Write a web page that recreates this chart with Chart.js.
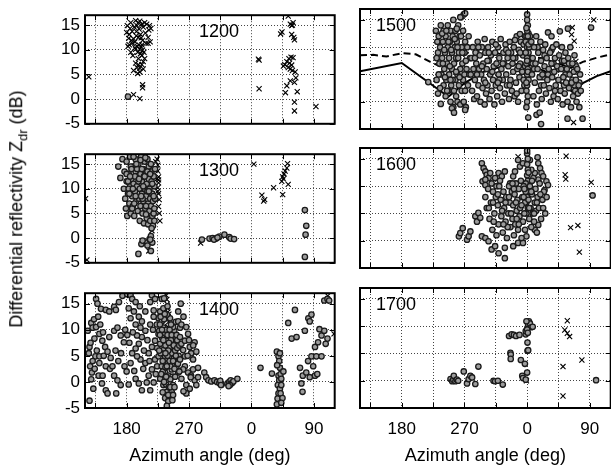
<!DOCTYPE html>
<html>
<head>
<meta charset="utf-8">
<script src="https://cdn.jsdelivr.net/npm/chart.js@4/dist/chart.umd.min.js"></script>
<style>
  html, body { margin: 0; padding: 0; background: #fff; overflow: hidden; }
  #wrap { position: relative; width: 611px; height: 468px; overflow: hidden; }
  canvas { position: absolute; }
  #ytitle {
    position: absolute; left: 18px; top: 209px;
    transform: translate(-50%, -50%) rotate(-90deg);
    font: 18px "Liberation Sans", Arial, sans-serif; white-space: nowrap; color: #000;
  }
  #ytitle sub { font-size: 13px; }
</style>
</head>
<body>
<div id="wrap">
  <canvas id="p1200" width="340" height="139" style="left:0;top:0"></canvas>
  <canvas id="p1500" width="271" height="139" style="left:345px;top:0"></canvas>
  <canvas id="p1300" width="340" height="139" style="left:0;top:139px"></canvas>
  <canvas id="p1600" width="271" height="139" style="left:345px;top:139px"></canvas>
  <canvas id="p1400" width="340" height="190" style="left:0;top:278px"></canvas>
  <canvas id="p1700" width="271" height="190" style="left:345px;top:278px"></canvas>
  <div id="ytitle">Differential reflectivity Z<sub>dr</sub> (dB)</div>
</div>
<script>
(function () {
  "use strict";

  // ----- Axes -----
  // azimuth runs 120 -> 480 (wraps through 0 at 360)
  const X_MIN = 120, X_MAX = 480;
  const X_TICKS = [135, 180, 225, 270, 315, 360, 405, 450];
  const X_LABELS = ["", "180", "", "270", "", "0", "", "90"];
  const Y_MIN = -5, Y_MAX = 17;
  const Y_TICKS = [-5, 0, 5, 10, 15];

  // ----- Data: [azimuth deg, Zdr dB] -----
  const C1200 = [[182, 0.5]];
  const X1200 = [
    [125.5, 4.5],
    [181, 14.9], [184, 13.1], [185, 14.3], [186, 15.5], [188, 13.7], [182, 10.7], [186, 9.5], [188, 11.3], [190, 12.2],
    [193, 10.1], [195, 14.9], [197, 15.5], [199, 15.8], [202, 15.2], [204, 14.6], [206, 15.5], [213, 14.9], [215, 14.3],
    [214, 11.6], [211, 11.3], [197, 12.5], [195, 10.7], [199, 10.1], [202, 8.8], [197, 8.2], [193, 7.3], [190, 5.8],
    [195, 6.4], [199, 5.5], [202, 7.0], [204, 7.6], [206, 8.2], [205, 9.5], [202, 11.0], [200, 13.1], [194, 13.7],
    [187, 11.9], [189, 8.8], [192, 10.4], [196, 9.5], [198, 11.0], [203, 11.9], [208, 11.3], [211, 12.5], [207, 13.4],
    [197, 7.0], [183, 12.3], [191, 14.6], [193, 15.9], [200, 9.2], [201, 10.6], [203, 9.9], [199, 6.3], [196, 5.2],
    [204, 6.1], [192, 11.6], [194, 12.8], [198, 14.2], [201, 12.4], [209, 15.2], [212, 14.0], [180, 13.5], [184, 11.0],
    [190, 0.9], [199, 0.1], [203, 2.9], [203, 2.3],
    [371, 2.1], [371, 7.9], [370, 8.1], [402, 13.2], [404, 13.6], [413, 16.8], [416, 15.2], [418, 14.9], [420, 15.5],
    [419, 15.0], [418, 13.1], [421, 12.5], [422, 12.0], [406, 6.7], [408, 7.0], [411, 7.6], [414, 8.2], [417, 8.5],
    [420, 8.4], [413, 6.4], [416, 6.1], [419, 5.8], [423, 5.5], [424, 4.3], [422, 3.4], [416, 3.7], [411, 2.7],
    [409, 1.3], [426, 1.5], [422, -0.6], [422, -2.4], [453, -1.5], [415, 7.3], [418, 6.9]
  ];

  const C1300 = [
    [168, 14.5], [171, 12.2], [174, 16], [176, 10], [177, 13.5], [178, 8], [179, 6], [180, 11.5], [180, 15.5], [181, 4.5],
    [182, 9], [183, 13], [184, 7], [185, 16.5], [185, 10.5], [186, 5], [187, 12], [188, 8.5], [189, 14.5], [189, 6.5],
    [190, 11], [191, 4.5], [192, 9.5], [193, 13.5], [193, 16], [194, 7.5], [195, 10.5], [196, 5.5], [196, 12.5], [197, 15],
    [198, 8], [199, 10], [199, 3.5], [200, 13], [200, 6.5], [201, 16.5], [202, 9], [202, 11.5], [203, 5], [204, 14],
    [204, 7.5], [205, 12.5], [205, 3], [206, 10], [206, 15.5], [207, 6], [208, 8.5], [208, 13], [209, 4], [209, 11],
    [210, 9.5], [210, 16], [211, 7], [211, 2.8], [212, 12], [212, 14.5], [213, 5.5], [213, 10], [214, 8], [214, 3.5],
    [215, 15], [215, 6.5], [216, 11.5], [216, 13.5], [217, 4.5], [217, 9], [218, 2.5], [218, 7.5], [219, 12.5], [219, 5],
    [220, 10.5], [220, 3.5], [221, 8], [221, 14], [216, 2], [183, 10], [186, 14.5], [190, 16.5], [195, 14], [200, 15.8],
    [207, 16.3], [188, 6], [192, 12.5], [197, 11.5], [203, 8], [208, 4.8], [180, 13],
    [182, 11.5], [184, 9], [187, 14], [189, 10], [191, 7], [194, 15], [198, 12], [201, 8.5], [204, 10.5], [206, 12.5],
    [208, 6.5], [210, 13.5], [212, 9.5], [214, 13], [217, 11], [219, 8.5], [220, 6], [185, 12.5], [193, 8.5], [202, 14],
    [197, -3.2], [201.3, -1.2], [209, -0.9], [213, -0.2], [215, 0.4], [215, -2.6], [217, -0.9], [203, -0.5], [210, -1.5], [214, -0.3],
    [288.6, -0.3], [299.5, -0.1], [304, 0], [309, -0.1], [313.7, 0.3], [321, 0.7], [328, 0.2], [330, -0.1], [335, -0.2], [306, -0.3], [311, 0.1],
    [437, 5.7], [439, 2.5], [438, 0.7], [437, -3.8]
  ];
  const X1300 = [
    [120.8, 8], [122.7, -4.4],
    [224, 16], [225, 14.8], [225, 13.6], [226, 12.4], [226, 11.2], [225, 10.2], [226, 9], [227, 7.8], [226, 6.4],
    [227, 5], [228, 3.5], [222, 15.5], [224, 12], [225, 9.5], [226, 11.8], [223, 14], [216.5, 1.5], [212, -2.6],
    [286.7, -1.0], [363.4, 15], [375, 8.7], [377.6, 7.5], [379, 7.8], [391.9, 10.2], [403.7, 11.5], [405, 12.4],
    [407, 13], [408.5, 13.6], [411, 14.2], [412, 15.1], [405, 8.8], [413, 10.9], [406, 12]
  ];

  const C1400 = [
    [124, 9.8], [125.5, 5.5], [126.5, 6.7], [127.4, 3], [129, 11.3], [130, 1.8], [131, 10.4], [132, -1.3], [133.6, 8.3],
    [135, 4.9], [136, 15.9], [126.5, -3.6], [138, 15], [140.7, 3.6], [139.7, 1.2], [140.7, 9.2], [140.7, 4.9], [143, 14],
    [144.5, -0.3], [145, 7.9], [145.4, 1.2], [147, 5], [149, 6.7], [150, 13.8], [150, 3], [150, -1.6], [152.5, 5.8],
    [152.5, -2.2], [155, 13.5], [155, 8.6], [156, 2.5], [157, 4.6], [159.6, 3], [162, 14.4], [162, 9.8], [162, 1.2],
    [164.5, 13.8], [164, 6], [165, -2.2], [166.8, 10.4], [166.8, 0.3], [168, 4], [169, 15.3], [171.5, 8.9], [171.5, -0.6],
    [172, 5.5], [174, 16.5], [176, 7.6], [177, 3], [178, 10], [128, 7.5], [131, 4], [134, 2.5], [137, 6], [129, 0.5],
    [133, 12], [136, 10.5], [139, 12.5], [142, 11], [146, 9.5],
    [181, 16.8], [185.7, 16.6], [188, 15.9], [193, 15.3], [183, 14.1], [190.5, 13.5], [185.7, 12.2], [193, 11], [197.6, 12.5],
    [202, 11.6], [207, 13.5], [214, 15.3], [216.5, 16.6], [221, 15.9], [219, 13.7], [207, 9.8], [202, 8.6], [197.6, 7.3],
    [193, 6.4], [188, 5.5], [185.7, 3.6], [191, 2.1], [193, 0.6], [197.6, -0.3], [202, -1.6], [209, -0.1], [211.8, 1.2],
    [216.5, 2.4], [221, 4.3], [207, 3.6], [211.8, 5.5], [216.5, 6.7], [221, 7.9], [226, 9.2], [223.5, 11], [226, 12.2],
    [204, 2.5], [200, 4.3], [195, 4.9], [214, -1.6], [219, -0.1], [195, 8.9], [200, 10.4], [214, 11], [219, 12.5], [181, 9],
    [184, 7.5], [180, 2], [183, -0.5], [189, 9.5], [199, 14.5], [205, 6], [210, 8], [213, 4], [218, 10], [224, 6.5],
    [222, 1.5], [224, 3],
    [228.4, 13.5], [230.7, 11.6], [233, 10.4], [235.5, 9.2], [238, 7.9], [228.4, 7.3], [233, 6.1], [235.5, 4.9], [240, 3.6],
    [245, 2.4], [230.7, 3], [235.5, 1.8], [240, 1.2], [228.4, 0.6], [233, -0.6], [238, -1.9], [235.5, -3.1], [240, -3.7],
    [238, -4.6], [245, -1.9], [247, -0.6], [242.6, 6.7], [245, 5.5], [247, 7.3], [249.7, 8.6], [248.7, 9.8], [245, 11],
    [242.6, 12.2], [238, 12.9], [233, 14.1], [249.7, 4.3], [252, 3], [254.4, 1.8], [230.7, 15.9], [226, 4.9], [227, 9.8],
    [229, 5.5], [231, 8.5], [232, 2], [234, 12], [236, 7], [237, 10], [239, 5], [241, 9], [243, 3], [244, 8], [246, 1],
    [247, 10.5], [249, 2.5], [250, 6], [251, 11.5], [253, 8], [255, 5], [237, -0.5], [241, -1], [243, 0.5], [244, -2.5],
    [246, -3.5], [239, 14.5], [234, 16], [228, 11], [232, 4], [236, 2.8], [240, 6], [242, 10], [248, 4.5],
    [227, 6], [229, 12.5], [231, 10], [233, 8], [235, 13], [236, 5.5], [238, 3], [239, 9], [241, 7.5], [242, 4], [244, 11],
    [245, 9], [247, 4], [248, 7], [250, 1], [251, 5], [252, 9], [253, 6.5], [254, 3.5], [256, 7], [230, 1.5], [234, 0],
    [237, 1], [240, -2.5], [243, -1], [232, -2], [247, -2.5], [249, -1], [228, 9],
    [257, 8.6], [259, 7.3], [261.5, 6.1], [264, 4.9], [257, 10.4], [264, 7.9], [268.6, 9.2], [271, 6.7], [273, 5.5],
    [275.8, 4.3], [264, 3], [268.6, 1.8], [273, 1.2], [278, 0.3], [280.5, -0.6], [259, 0.6], [257, 4.3], [261.5, 2.4],
    [266, -0.6], [271, -1.3], [275.8, 2.4], [283, 0.9], [278, 7.6], [280.5, 5.8], [254.4, 11.6], [259, 11], [254.4, 13.5],
    [266, -2.2], [272.4, 0.9], [258, 15], [262, 12.5], [266, 10.5], [270, 8], [262, -1.8], [256, 2], [268, 5], [276, 7],
    [283, 2.7],
    [292, 1.8], [294.7, 0.9], [298, 0.3], [302, 0.1], [306.6, 0.3], [310.4, 0], [313.7, -0.2], [317, -0.5], [315, 0.2],
    [316, -0.6], [325.5, -0.3], [328, 0], [330, 0.3], [332, -0.2], [334, 0.1], [339.7, 0.6], [329, -0.6], [327, -0.8],
    [373, 2.7], [389.5, 1.6], [396.6, 5.8], [399, 4.9], [400, 4], [401, 2.7], [399, 1.2], [400, 0.3], [398, -0.6],
    [401, -1.3], [399, -2.2], [397.6, -3.2], [396.6, -4.3], [402, 1.5], [403, 0.6], [403, -0.6], [406, 2], [402, -2.2],
    [404.7, -3.1], [401, 5.5], [397, 3.2], [403, -4],
    [413, 11.3], [422.7, 13.8], [418, 8.3], [425, 8.6], [430, 2.7], [434, 1.2], [432, -0.3], [433.6, -1.9], [437, 9.8],
    [442, 12.2], [446.5, 12.9], [444, 11.6], [439, 1.8], [441.6, 4], [446.5, 4.9], [449, 3], [451.6, 1.2], [454.9, 1.5],
    [444, 0.9], [451.6, 6.7], [456, 7.6], [461, 8.9], [458, 10.1], [465, 9.8], [467, 7.3], [469.6, 8.3], [453.5, 4.9],
    [461, 4.9], [465, 15.6], [469.6, 15.9], [472, 15.6]
  ];
  const X1400 = [
    [237, 16.6], [238, 15.8], [238.5, 14.9], [239, 14.1], [239.5, 13.4], [240, 12.5], [240.5, 11.5], [239, 10.6],
    [241, 13], [470, 16.5], [479, 9.2]
  ];

  const C1500 = [
    [229, 13], [231, 11], [232, 9], [233, 12], [234, 7], [235, 10], [236, 14], [237, 5], [238, 8], [239, 11], [240, 3],
    [240, 13], [241, 6], [242, 9], [243, 1], [243, 12], [244, 4], [245, 7], [246, 10], [246, 14], [247, 2], [248, 5],
    [248, 8], [249, 11], [250, 13], [250, 0], [251, 3], [252, 6], [252, 9], [253, 12], [254, -1], [254, 15], [255, 2],
    [255, 7], [256, 10], [257, 4], [257, 13], [258, 1], [258, 8], [259, 11], [260, 0], [260, 5], [261, 14], [262, 3],
    [262, 9], [263, 12], [264, -0.5], [264, 6], [265, 15.5], [266, 2], [266, 10], [267, 7], [268, 13], [268, 4], [269, 0],
    [269, 16], [270, 9], [271, 2], [271, 11], [272, -1], [273, 6], [275, 3], [276, 12], [278, 8], [230, 4], [232, 1.5],
    [236, -0.4], [252, -1.2], [255, -2], [271, -1.5], [218, 3.6], [259, 13.4], [264, 15.5], [271, 16.2],
    [230, 8], [233, 5], [235, 2.5], [238, 12.5], [241, 9.5], [244, 13], [245, 2], [247, 11], [249, 6.5], [251, 9.5],
    [253, 4], [256, 11.5], [258, 5.5], [261, 8], [263, 4.5], [265, 12], [267, 9], [270, 5], [272, 7.5], [274, 10],
    [277, 5], [260, 10], [250, 4], [242, 4.5], [239, 7],
    [279, 5], [280, 8], [281, 2], [282, 10], [283, 6], [284, 0.5], [285, 4], [286, 9], [287, 7], [288, 1], [289, 11],
    [290, 3], [291, 6], [292, 8.5], [293, 0], [294, 5], [295, 10], [296, 2.5], [297, 7], [298, 4], [299, 11.5], [299, -0.5],
    [300, 9], [301, 1.5], [302, 6], [303, 3], [304, 10], [305, 7.5], [306, 0.5], [307, 5], [308, 8.5], [309, 2], [310, 11],
    [311, 4], [312, 6.5], [313, -0.5], [314, 9], [315, 3], [316, 7], [317, 1], [318, 10], [319, 5], [320, 8], [321, 2.5],
    [322, 11.5], [323, 6], [324, 0], [325, 4], [326, 9], [327, 7], [328, 1.5], [329, 10.5], [330, 5], [331, 3], [332, 8],
    [333, 6.5], [334, 0.5], [335, 11], [336, 4], [337, 9], [338, 2], [339, 7], [340, 5.5], [341, 10], [342, 1], [343, 8],
    [344, 3.5], [345, 12], [346, 6], [347, 0], [348, 9.5], [349, 4.5], [350, 7], [351, 11], [352, 2], [353, 5.5],
    [354, 8.5], [355, 10.5], [356, 3], [357, 6.5], [357, 12],
    [285, 8], [290, 10], [295, 6.5], [300, 3.5], [305, 9], [310, 5.5], [315, 10.5], [320, 4], [325, 7], [330, 9.5],
    [335, 3], [340, 8], [345, 1.5], [350, 9], [355, 4], [365, 8], [370, 6], [375, 10], [380, 3], [385, 8.5], [390, 5],
    [395, 9.5], [400, 2], [405, 6], [410, 7.5], [415, 5], [420, 7], [425, 4], [430, 6.5], [435, 3.5], [288, 5],
    [303, 7.5], [318, 3.5], [333, 9], [348, 6.5], [368, 7], [383, 4.5], [398, 7], [413, 3], [428, 3],
    [359, -1], [360, 0], [361, 1], [359, 2], [360, 3], [362, 4], [360, 5], [361, 6], [359, 7], [360, 8], [362, 9],
    [360, 10], [361, 11], [359, 12], [362, 12.5], [360, 13], [361, 14], [360, 15], [360, 16], [363, 10], [358, 11],
    [364, 12], [358, 9], [359, 3.5], [361, 5.5], [360, 7.5], [362, 10.5], [359, 13.5], [361, 12],
    [366, 11], [367, 5], [368, 8], [369, 1], [370, 10], [371, 3.5], [372, 7], [373, 12], [374, -0.5], [375, 6], [376, 9],
    [377, 2], [378, 4.5], [379, 11], [380, 7.5], [381, 0.5], [382, 5], [383, 9.5], [384, 3], [385, 6.5], [386, 10.5],
    [387, 1.5], [388, 8], [389, 4], [390, 12.7], [391, 6], [392, 2.5], [393, 9], [394, 0], [395, 7], [396, 4.5], [397, 10],
    [398, 1], [399, 5.5], [400, 8], [401, 3], [402, 10.5], [403, 6.5], [404, 0.5], [405, 4], [406, 8.5], [407, 12.9],
    [408, 2], [409, 6], [410, 10], [411, -0.5], [412, 4.5], [413, 7.5], [414, 1.5], [415, 9], [416, 3.5], [417, 6],
    [418, 0], [419, 8], [420, 2.5], [421, 5], [422, 10], [423, -1], [424, 3.5], [425, 7], [426, 1], [427, 5.5], [428, 8.5],
    [429, 2], [430, 4], [431, 0], [432, 6], [433, 1.5], [434, 3], [435, -1], [436, 5], [437, 2], [418.6, 13.4],
    [361.6, -2.9], [373.5, -2.4], [378, -2.0], [380, -4.1], [418, -3.1], [439.6, -3.1], [342.6, 11.3], [349.7, 12.4],
    [451.8, 13.6], [395, 12]
  ];
  const X1500 = [
    [424.8, 13.6], [423.8, 12.3], [427.6, 11.1], [430, 7.4], [426.7, -3.8], [455.7, 15], [431, 6.2]
  ];
  const SOLID1500 = [
    [120, 5.6], [180, 7.1], [247, 0.9], [270, 3.4], [298, 5.5], [320, 6.3], [345, 6.9], [365, 6.7], [385, 5.6],
    [405, 3.8], [425, 1.8], [440, 3.4], [460, 4.7], [480, 5.6]
  ];
  const DASH1500 = [
    [120, 8.5], [139, 8.6], [158, 8.3], [180, 8.9], [200, 8.7], [221, 7.3], [240, 6.2], [260, 7.5], [276, 9.1],
    [298, 9.4], [320, 8.8], [350, 8.5], [380, 8.0], [405, 7.0], [423, 6.2], [440, 7.3], [458, 8.0], [480, 8.7]
  ];

  const C1600 = [
    [295, 14.2], [297.5, 13.3], [300, 12.7], [302, 12.1], [304.6, 11.5], [296, 10.9], [300, 11.2], [307, 12.4], [314, 11.5],
    [319, 12.4], [323.6, 11.8], [328, 12.7], [309, 10.5], [316, 10], [300, 10.2],
    [347, 14.8], [349.7, 13.6], [354, 14.2], [364, 14.8], [375, 15.3], [376, 14.2], [378.6, 13.3], [380.6, 12.4],
    [383, 11.8], [387.7, 10.9], [390, 10.2], [385, 9.3], [376, 11.2], [371, 12.4], [366, 13], [340, 11.8], [335.5, 10.5],
    [342.6, 12.7],
    [359, 5], [361, 6], [359, 7], [360, 8], [361, 9], [360, 10], [361, 11], [360, 12], [361, 13], [360, 14], [361, 15],
    [360, 16], [360, 16.5], [362, 12.5], [358, 10.5],
    [262, 0.8], [264, 1.4], [267.5, 2.3], [273.7, 0.2], [276, 0.8], [278.5, 1.7], [285.6, 4.5], [290, 5.1], [288, 3.5],
    [292.7, 4.2], [295, 0.8], [300, 0.5], [304.6, -0.1],
    [309, -1.6], [314, -1], [319, -2.3], [328, -3.2], [328, -1.3], [340, -1], [347, -0.4], [354, -0.4], [359, 0.8],
    [376, 2.9], [371, 2],
    [300, 8], [302, 6], [304, 9.5], [306, 4], [308, 7], [310, 2], [311, 9], [313, 5], [315, 8], [316, 1], [318, 6.5],
    [319, 3], [320, 10], [322, 7.5], [323, 4.5], [325, 1.5], [326, 9], [327, 6], [329, 3.5], [330, 8], [331, 0.5], [333, 5],
    [334, 10], [335, 7], [336, 2.5], [338, 9], [339, 4], [340, 6.5], [341, 1], [342, 8.5], [343, 3], [344, 10.5],
    [345, 5.5], [346, 7.5], [347, 2], [348, 9.5], [349, 4.5], [350, 6], [351, 11], [352, 0.5], [353, 8], [354, 3.5],
    [355, 10], [356, 5], [357, 7], [357, 2], [358, 9], [362, 7.5], [363, 4], [364, 10], [365, 6], [366, 2.5], [367, 8.5],
    [368, 5], [369, 11.5], [370, 3.5], [371, 7], [372, 9.5], [373, 5.5], [374, 1.5], [375, 8], [377, 6], [378, 10.5],
    [380, 4], [382, 7.5], [384, 9], [386, 5], [388, 8],
    [305, 6], [312, 3.5], [318, 8.5], [324, 5.5], [329, 7], [332, 2.5], [337, 5], [341, 9.5], [344, 7], [348, 3],
    [352, 6.5], [355, 8], [363, 6], [366, 9], [370, 5], [374, 7], [379, 8.5], [383, 6], [326, 3], [334, 8], [345, 4],
    [356, 9.5], [367, 11], [339, 10.5], [311, 7], [321, 11],
    [454, 8.3]
  ];
  const X1600 = [
    [347, 15.4], [416, 15.5], [414.6, 12.1], [415.5, 11.3], [452, 10.7], [422.4, 2.4], [432.9, 2.8], [435, -2.1]
  ];

  const C1700 = [
    [250, 0.3], [252.4, -0.1], [254, 0.2], [254.7, 0.9], [257, -0.1], [259, 0.2], [261, 0], [269, 1.7], [273.7, -0.5],
    [276, 0.3], [278.5, 0.9], [281, 0.6], [285.6, -0.6], [290, 2.6], [311.7, 0], [314, -0.1], [318, 0], [325, -0.7],
    [334, 8.2], [337.8, 8.5], [341, 8.4], [344, 8.2], [349, 8.4], [336, 5.1], [336.5, 4.8], [336.4, 4.0], [351, 3.8],
    [353, 0.9], [354, 0.5], [356.8, 3.1], [358, 0.2], [360, 1.5], [360.5, 7], [360.5, 5.5], [361.5, 5.6], [358, 8.5],
    [358, 9.1], [360.5, 9.7], [361.6, 10.3], [362.5, 10.9], [364, 10.5], [366, 9.8], [368, 9.9], [359, 10.9], [360, 9.4],
    [361, 8.8], [459, 0.1]
  ];
  const X1700 = [
    [359, 0], [417.7, 11], [414, 9.3], [417.7, 8.7], [421, 8.1], [411.5, 2.6], [411.5, -2.8], [438.6, 3.8]
  ];

  // ----- Styling -----
  const FONT = '"Liberation Sans", Arial, Helvetica, sans-serif';

  // gnuplot-like frame with inward ticks on all sides and the panel hour label
  const framePlugin = {
    id: "frame",
    afterDraw(chart, args, opts) {
      const { ctx, chartArea: a, scales } = chart;
      ctx.save();
      ctx.strokeStyle = "#000";
      ctx.lineWidth = 1;
      ctx.beginPath();
      X_TICKS.forEach((v) => {
        const x = Math.round(scales.x.getPixelForValue(v)) + 0.5;
        ctx.moveTo(x, a.bottom); ctx.lineTo(x, a.bottom - 5);
        ctx.moveTo(x, a.top); ctx.lineTo(x, a.top + 5);
      });
      Y_TICKS.forEach((v) => {
        const y = Math.round(scales.y.getPixelForValue(v)) + 0.5;
        ctx.moveTo(a.left, y); ctx.lineTo(a.left + 5, y);
        ctx.moveTo(a.right, y); ctx.lineTo(a.right - 5, y);
      });
      ctx.stroke();
      ctx.lineWidth = 2;
      ctx.strokeRect(a.left, a.top, a.right - a.left, a.bottom - a.top);
      ctx.fillStyle = "#000";
      ctx.font = "18px " + FONT;
      ctx.textBaseline = "middle";
      ctx.textAlign = "left";
      ctx.fillText(opts.text, a.left + opts.dx, a.top + 17);
      ctx.restore();
    },
  };

  const toXY = (arr) => arr.map(([x, y]) => ({ x, y }));

  function makePanel(id, p) {
    const left = p.col === 0;
    const bottom = p.row === 2;
    const datasets = [
      {
        data: toXY(p.circles), pointStyle: "circle", pointRadius: 2.7,
        backgroundColor: "#9c9c9c", borderColor: "#1a1a1a", borderWidth: 1.3,
      },
      {
        data: toXY(p.crosses), pointStyle: "crossRot", pointRadius: 3.6,
        backgroundColor: "#000", borderColor: "#000", borderWidth: 1.1,
      },
    ];
    (p.lines || []).forEach((l) => {
      datasets.push({
        data: toXY(l.data), showLine: true, pointRadius: 0, borderColor: "#000",
        borderWidth: 2, borderDash: l.dash, fill: false, tension: 0,
      });
    });

    new Chart(document.getElementById(id), {
      type: "scatter",
      data: { datasets },
      plugins: [framePlugin],
      options: {
        responsive: false,
        devicePixelRatio: 1,
        animation: false,
        events: [],
        layout: { padding: { top: p.row === 2 ? 10 : 9, right: 3, left: 0, bottom: 0 } },
        plugins: {
          legend: { display: false },
          tooltip: { enabled: false },
          frame: { text: p.label, dx: left ? 114 : 16 },
        },
        scales: {
          x: {
            type: "linear", min: X_MIN, max: X_MAX,
            afterBuildTicks: (s) => { s.ticks = X_TICKS.map((v) => ({ value: v })); },
            afterFit: (s) => { s.height = bottom ? 60 : 10; },
            grid: { color: "#444", lineWidth: 1, drawTicks: false },
            border: { display: false, dash: [1, 2] },
            ticks: {
              display: bottom, autoSkip: false, maxRotation: 0, padding: 11,
              color: "#000", font: { family: FONT, size: 17 },
              callback: (v, i) => X_LABELS[i],
            },
            title: {
              display: bottom, text: "Azimuth angle (deg)", color: "#000",
              font: { family: FONT, size: 18 }, padding: { top: 0, bottom: 1 },
            },
          },
          y: {
            type: "linear", min: Y_MIN, max: Y_MAX,
            afterBuildTicks: (s) => { s.ticks = Y_TICKS.map((v) => ({ value: v })); },
            afterFit: (s) => { s.width = left ? 85 : 15; },
            grid: { color: "#444", lineWidth: 1, drawTicks: false },
            border: { display: false, dash: [1, 2] },
            ticks: {
              display: left, padding: 5, color: "#000",
              font: { family: FONT, size: 17 },
              callback: (v) => String(v),
            },
          },
        },
      },
    });
  }

  makePanel("p1200", { row: 0, col: 0, label: "1200", circles: C1200, crosses: X1200 });
  makePanel("p1500", {
    row: 0, col: 1, label: "1500", circles: C1500, crosses: X1500,
    lines: [{ data: SOLID1500, dash: [] }, { data: DASH1500, dash: [7, 4] }],
  });
  makePanel("p1300", { row: 1, col: 0, label: "1300", circles: C1300, crosses: X1300 });
  makePanel("p1600", { row: 1, col: 1, label: "1600", circles: C1600, crosses: X1600 });
  makePanel("p1400", { row: 2, col: 0, label: "1400", circles: C1400, crosses: X1400 });
  makePanel("p1700", { row: 2, col: 1, label: "1700", circles: C1700, crosses: X1700 });
})();
</script>
</body>
</html>
